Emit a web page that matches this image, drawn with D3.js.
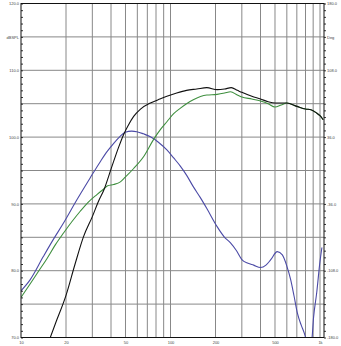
<!DOCTYPE html>
<html>
<head>
<meta charset="utf-8">
<script src="https://cdn.jsdelivr.net/npm/d3@7"></script>
<style>
  body { margin: 0; background: #fff; }
  text { font-family: "Liberation Sans", Arial, sans-serif; fill: #444; }
</style>
</head>
<body>
<div class="chart"></div>
<script>
// frequency response data
const blackHz = [15, 17, 20, 23, 26.2, 30, 33, 36, 40, 45, 48.6, 52, 56.7, 63, 73.4, 85, 94.6, 110, 128, 150, 175, 205, 230, 255, 280, 300, 350, 400, 450, 500, 600, 700, 800, 870, 950, 1000, 1050]
const blackDb = [68.8, 72.1, 76.3, 81.0, 85.1, 88.1, 90.4, 92.2, 95.2, 98.5, 100.4, 101.7, 103.1, 104.2, 105.1, 105.7, 106.1, 106.6, 107.0, 107.2, 107.4, 107.1, 107.2, 107.4, 107.0, 106.7, 106.1, 105.7, 105.3, 105.1, 105.1, 104.6, 104.2, 104.1, 103.6, 103.2, 102.6]

const greenHz = [10, 11.5, 13, 14.9, 17, 19.2, 22, 24.9, 28, 32.2, 35.6, 38, 41.7, 46.2, 49.8, 56.7, 66.2, 77.3, 86, 94.6, 105, 116, 128, 142, 175, 205, 230, 252, 280, 300, 350, 400, 450, 500, 550, 600, 700, 800, 870, 950, 1000, 1050]
const greenDb = [76.0, 78.0, 79.8, 81.8, 83.9, 85.6, 87.4, 88.9, 90.2, 91.4, 92.2, 92.7, 92.9, 93.3, 94.0, 95.3, 97.1, 99.7, 101.2, 102.3, 103.5, 104.3, 105.0, 105.6, 106.3, 106.4, 106.6, 106.8, 106.3, 106.0, 105.7, 105.4, 105.0, 104.5, 104.8, 105.1, 104.6, 104.2, 104.1, 103.6, 103.2, 102.6]

const phaseHz = [10, 11.5, 14.1, 16.5, 19.2, 23.6, 29, 33.9, 37.5, 41.7, 45.5, 49.8, 55, 59.5, 66, 73.4, 83, 94.6, 105, 116, 128, 142, 158, 175, 205, 230, 252, 275, 300, 330, 360, 400, 435, 467, 518, 560, 600, 637, 670, 706, 750, 785, 820, 850, 880, 906, 950, 1000, 1030]
const phaseDeg = [-129.7, -117.9, -92.8, -74, -56.9, -31.8, -8, 9.5, 20, 29.3, 36, 41.2, 42.4, 41.8, 39.5, 36.4, 30.5, 22.1, 13.5, 5, -5, -17.4, -29, -41, -60.5, -72, -78, -86, -96, -100, -102, -104.6, -102, -96.4, -87.4, -91, -103, -117.9, -135, -153.8, -167, -175.3, -186, -192, -184, -158, -132, -98, -83]

const xTicks = [10, 20, 50, 100, 200, 500, 1000]
const xTickLabels = ['10', '20', '50', '100', '200', '500', '1k']
const xGrid = [20, 30, 40, 50, 60, 70, 80, 90, 100, 200, 300, 400, 500, 600, 700, 800, 900, 1000]
const splLabels = { 120: '120.0', 115: 'dBSPL', 110: '110.0', 100: '100.0', 90: '90.0', 80: '80.0', 70: '70.0' }
const phaseLabels = { 180: '180.0', 144: 'Deg', 108: '108.0', 36: '36.0', '-36': '-36.0', '-108': '-108.0', '-180': '-180.0' }

let fullwidth = 341
let fullheight = 346
let plotLeft = 21, plotRight = 324, plotTop = 3.5, plotBottom = 337.5

var svg = d3.select(".chart").append("svg")
    .attr("width", fullwidth)
    .attr("height", fullheight)

var xScale = d3.scaleLog().domain([10, 1000]).range([plotLeft, 320]),
    yScale = d3.scaleLinear().domain([70, 120]).range([plotBottom, plotTop]),
    pScale = d3.scaleLinear().domain([-180, 180]).range([plotBottom, plotTop]);

svg.append("clipPath").attr("id", "plot")
    .append("rect")
    .attr("x", plotLeft).attr("y", plotTop)
    .attr("width", plotRight - plotLeft).attr("height", plotBottom - plotTop)

// grid
svg.append("g")
    .selectAll("line")
    .data(xGrid)
    .enter()
    .append("line")
    .attr("x1", d => xScale(d)).attr("x2", d => xScale(d))
    .attr("y1", plotTop).attr("y2", plotBottom)
    .style("stroke", "#888")
    .style("stroke-width", 1)

svg.append("g")
    .selectAll("line")
    .data(d3.range(75, 120, 5))
    .enter()
    .append("line")
    .attr("x1", plotLeft).attr("x2", plotRight)
    .attr("y1", d => yScale(d)).attr("y2", d => yScale(d))
    .style("stroke", "#888")
    .style("stroke-width", 1)

// axes
var leftAxis = svg.append("g")
    .attr("transform", "translate(" + plotLeft + ",0)")
    .call(d3.axisLeft(yScale)
        .tickValues(d3.range(70, 121))
        .tickSize(-2)
        .tickPadding(2)
        .tickFormat(d => splLabels[d] || ""))
leftAxis.select(".domain").remove()

var phaseTicks = d3.range(0, 51).map(i => Math.round((-180 + 7.2 * i) * 10) / 10)
var rightAxis = svg.append("g")
    .attr("transform", "translate(" + plotRight + ",0)")
    .call(d3.axisRight(pScale)
        .tickValues(phaseTicks)
        .tickSize(2)
        .tickPadding(1)
        .tickFormat(d => phaseLabels[d] || ""))
rightAxis.select(".domain").remove()

var bottomAxis = svg.append("g")
    .attr("transform", "translate(0," + plotBottom + ")")
    .call(d3.axisBottom(xScale)
        .tickValues(xTicks)
        .tickSize(0)
        .tickPadding(4)
        .tickFormat((d, i) => xTickLabels[i]))
bottomAxis.select(".domain").remove()

svg.selectAll(".tick text")
    .style("font-size", "4px")
    .style("fill", "#444")
svg.selectAll(".tick line").style("stroke", "#333")

// curves
var splLine = d3.line()
    .x(d => xScale(d[0]))
    .y(d => yScale(d[1]))
    .curve(d3.curveMonotoneX)

var phaseLine = d3.line()
    .x(d => xScale(d[0]))
    .y(d => pScale(d[1]))
    .curve(d3.curveMonotoneX)

var curves = svg.append("g").attr("clip-path", "url(#plot)")

curves.append("path")
    .datum(phaseHz.map((f, i) => [f, phaseDeg[i]]))
    .attr("d", phaseLine)
    .style("fill", "none")
    .style("stroke", "#4b4aa6")
    .style("stroke-width", 1.1)

curves.append("path")
    .datum(greenHz.map((f, i) => [f, greenDb[i]]))
    .attr("d", splLine)
    .style("fill", "none")
    .style("stroke", "#3f8f3f")
    .style("stroke-width", 1.1)

curves.append("path")
    .datum(blackHz.map((f, i) => [f, blackDb[i]]))
    .attr("d", splLine)
    .style("fill", "none")
    .style("stroke", "#111")
    .style("stroke-width", 1.1)

// frame
svg.append("rect")
    .attr("x", plotLeft).attr("y", plotTop)
    .attr("width", plotRight - plotLeft).attr("height", plotBottom - plotTop)
    .style("fill", "none")
    .style("stroke", "#111")
    .style("stroke-width", 1)
</script>
</body>
</html>
